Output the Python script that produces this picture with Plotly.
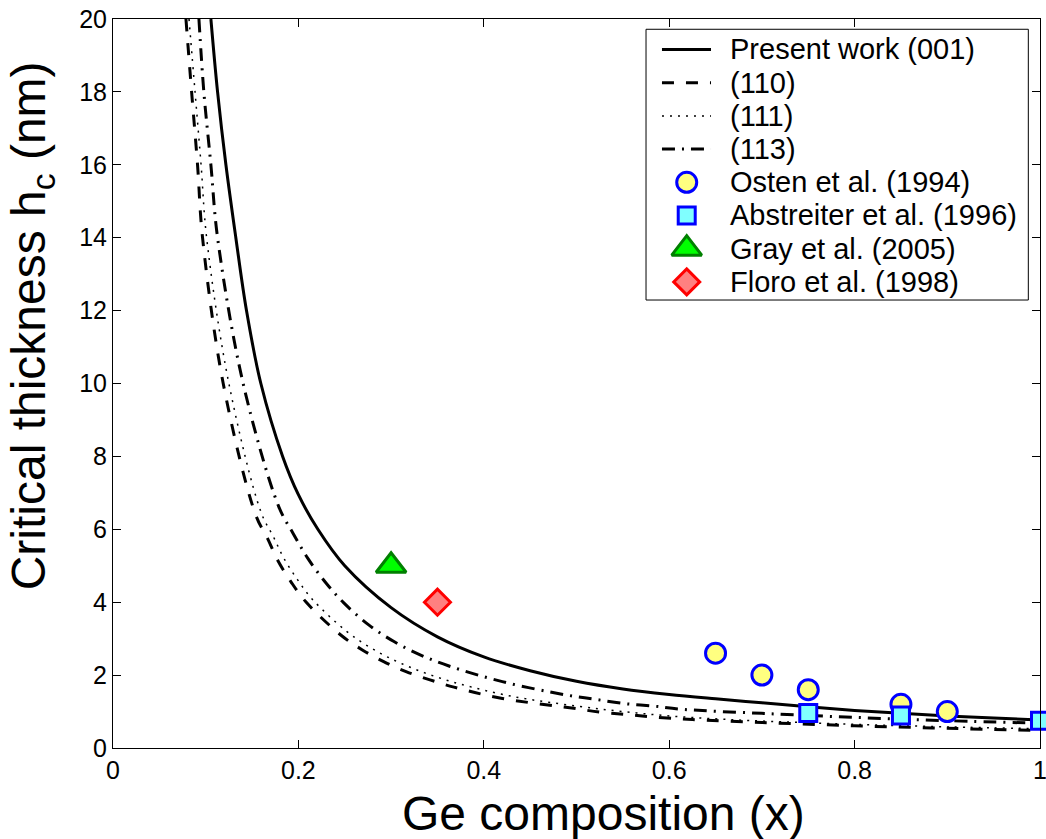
import plotly.graph_objects as go

# Critical thickness curves (Ge composition x, thickness in nm)
x_001 = [0.1056, 0.1128, 0.1218, 0.1325, 0.144, 0.1595, 0.183, 0.2, 0.221, 0.25, 0.3,
         0.35, 0.4, 0.45, 0.5, 0.55, 0.6, 0.65, 0.7, 0.75, 0.8, 0.85, 0.9, 0.95, 1.0]
h_001 = [20.0, 18.0, 16.0, 14.0, 12.0, 10.0, 8.0, 6.95, 6.0, 5.0, 3.85,
         3.05, 2.50, 2.12, 1.83, 1.62, 1.47, 1.35, 1.24, 1.13, 1.03, 0.95, 0.88, 0.82, 0.77]

x_110 = [0.0787, 0.0848, 0.0912, 0.0966, 0.1189, 0.154, 0.1667, 0.1775, 0.192, 0.208, 0.2457,
         0.269, 0.292, 0.3168, 0.3419, 0.3678, 0.42, 0.497, 0.526, 0.553, 0.578, 0.605, 0.625,
         0.7, 0.8, 0.9, 1.0]
h_110 = [20.0, 18.0, 16.0, 14.0, 10.0, 6.39, 5.75, 5.16, 4.56, 4.01, 3.10,
         2.69, 2.37, 2.09, 1.87, 1.67, 1.36, 1.09, 0.98, 0.92, 0.86, 0.81, 0.78,
         0.70, 0.61, 0.54, 0.48]

x_111 = [0.082, 0.0885, 0.095, 0.101, 0.125, 0.160, 0.173, 0.184, 0.199, 0.215, 0.252,
         0.276, 0.299, 0.324, 0.349, 0.375, 0.43, 0.5, 0.55, 0.6, 0.65, 0.7, 0.8, 0.9, 1.0]
h_111 = [20.0, 18.0, 16.0, 14.0, 10.0, 6.45, 5.80, 5.22, 4.62, 4.08, 3.20,
         2.78, 2.46, 2.18, 1.95, 1.75, 1.42, 1.15, 1.00, 0.88, 0.80, 0.74, 0.65, 0.58, 0.53]

x_113 = [0.0927, 0.098, 0.1056, 0.1128, 0.1404, 0.179, 0.194, 0.210, 0.230, 0.249, 0.2762,
         0.3031, 0.3319, 0.3624, 0.42, 0.490, 0.519, 0.551, 0.583, 0.615, 0.7, 0.8, 0.9, 1.0]
h_113 = [20.0, 18.0, 16.0, 14.0, 10.0, 6.61, 5.90, 5.21, 4.52, 3.98, 3.37,
         2.92, 2.55, 2.25, 1.82, 1.45, 1.34, 1.22, 1.15, 1.06, 0.95, 0.84, 0.75, 0.68]

# Experimental data
osten_x = [0.65, 0.70, 0.75, 0.85, 0.90]
osten_h = [2.6, 2.0, 1.6, 1.2, 1.0]
abst_x = [0.75, 0.85, 1.0]
abst_h = [0.96, 0.89, 0.75]
gray_x = [0.30]
gray_h = [5.0]
floro_x = [0.35]
floro_h = [4.0]

x_ticks = [0, 0.2, 0.4, 0.6, 0.8, 1.0]
x_tick_text = ["0", "0.2", "0.4", "0.6", "0.8", "1"]
y_ticks = [0, 2, 4, 6, 8, 10, 12, 14, 16, 18, 20]

FONT = "Liberation Sans, Arial, sans-serif"

line_specs = [
    (x_001, h_001, "Present work (001)", "solid", 3),
    (x_110, h_110, "(110)", "12px,12px", 3),
    (x_111, h_111, "(111)", "2px,6px", 1.5),
    (x_113, h_113, "(113)", "13px,7px,2px,7px", 3),
]
marker_specs = [
    (osten_x, osten_h, "Osten et al. (1994)",
     dict(symbol="circle", size=20, color="#ffff80", line=dict(color="#0000ff", width=3))),
    (abst_x, abst_h, "Abstreiter et al. (1996)",
     dict(symbol="square", size=17, color="#80ffff", line=dict(color="#0000ff", width=3))),
    (gray_x, gray_h, "Gray et al. (2005)",
     dict(symbol="triangle-up", size=26, color="#00ff00", line=dict(color="#008000", width=3))),
    (floro_x, floro_h, "Floro et al. (1998)",
     dict(symbol="diamond", size=20, color="#ff8080", line=dict(color="#ff0000", width=3))),
]

fig = go.Figure()

for xs, hs, name, dash, w in line_specs:
    fig.add_trace(go.Scatter(
        x=xs, y=hs, mode="lines", name=name, showlegend=False,
        line=dict(color="black", width=w, dash=dash, shape="spline", smoothing=1.0),
    ))

for xs, hs, name, mk in marker_specs:
    fig.add_trace(go.Scatter(
        x=xs, y=hs, mode="markers", name=name, showlegend=False,
        marker=mk, cliponaxis=False,
    ))

# Boxed key in the upper right (plot-area fractions)
key_left, key_right, key_top, key_bottom = 0.575, 0.9874, 0.9859, 0.6145
row_y = [0.9582, 0.9127, 0.8671, 0.8216, 0.7760, 0.7305, 0.6850, 0.6394]
sample_x0, sample_x1, sample_xm, text_x = 0.5922, 0.6451, 0.6189, 0.6637

shapes = [dict(type="rect", xref="paper", yref="paper",
               x0=key_left, x1=key_right, y0=key_bottom, y1=key_top,
               line=dict(color="black", width=1), fillcolor="white", layer="below")]
annotations = []

for i, (_, _, name, dash, w) in enumerate(line_specs):
    shapes.append(dict(type="line", xref="paper", yref="paper",
                       x0=sample_x0, x1=sample_x1, y0=row_y[i], y1=row_y[i],
                       line=dict(color="black", width=w, dash=dash), layer="above"))
    annotations.append(dict(text=name, x=text_x, y=row_y[i], xref="paper", yref="paper",
                            xanchor="left", yanchor="middle", showarrow=False,
                            font=dict(family=FONT, size=29, color="black")))

for j, (_, _, name, mk) in enumerate(marker_specs):
    k = j + len(line_specs)
    fig.add_trace(go.Scatter(
        x=[sample_xm], y=[row_y[k]], xaxis="x2", yaxis="y2", mode="markers",
        marker=mk, showlegend=False, hoverinfo="skip", cliponaxis=False,
    ))
    annotations.append(dict(text=name, x=text_x, y=row_y[k], xref="paper", yref="paper",
                            xanchor="left", yanchor="middle", showarrow=False,
                            font=dict(family=FONT, size=29, color="black")))

# Axis titles
annotations.append(dict(text="Ge composition (x)", x=0.5286, y=-0.0905,
                        xref="paper", yref="paper", xanchor="center", yanchor="middle",
                        showarrow=False, font=dict(family=FONT, size=48, color="black")))
annotations.append(dict(text="Critical thickness h<sub>c</sub> (nm)", x=-0.088, y=0.579,
                        xref="paper", yref="paper", xanchor="center", yanchor="middle",
                        textangle=-90, showarrow=False,
                        font=dict(family=FONT, size=48, color="black")))

axis_common = dict(
    showline=True, mirror="ticks", linecolor="black", linewidth=1,
    ticks="inside", ticklen=8, tickcolor="black", tickwidth=1,
    showgrid=False, zeroline=False, automargin=False,
    tickfont=dict(family=FONT, size=25, color="black"),
)

fig.update_layout(
    width=1046, height=839,
    margin=dict(l=113, r=6, t=19, b=91, autoexpand=False),
    paper_bgcolor="white", plot_bgcolor="white",
    font=dict(family=FONT, color="black"),
    xaxis=dict(range=[0, 1], tickvals=x_ticks, ticktext=x_tick_text,
               ticklabeloverflow="allow", **axis_common),
    yaxis=dict(range=[0, 20], tickvals=y_ticks, **axis_common),
    xaxis2=dict(overlaying="x", range=[0, 1], visible=False),
    yaxis2=dict(overlaying="y", range=[0, 1], visible=False),
    shapes=shapes,
    annotations=annotations,
    showlegend=False,
)

fig.write_html("out.html")
